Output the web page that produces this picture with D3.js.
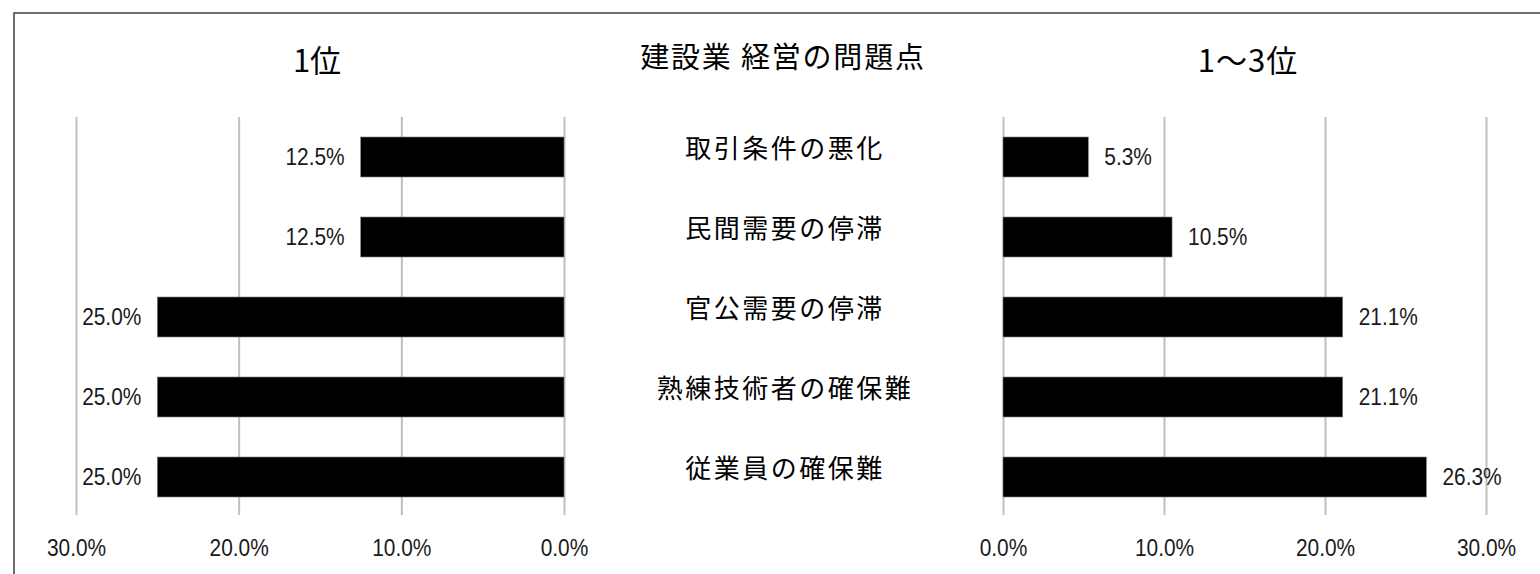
<!DOCTYPE html>
<html>
<head>
<meta charset="utf-8">
<script src="https://cdn.jsdelivr.net/npm/d3@7"></script>
<style>
  html, body { margin: 0; padding: 0; background: #fff; }
  svg { display: block; }
  .jp { font-family: "Noto Sans CJK JP", "Noto Sans", sans-serif; fill: #000; font-weight: 400; }
  .num { font-family: "Liberation Sans", "Arial", sans-serif; fill: #1a1a1a; }
</style>
</head>
<body>
<svg id="chart" width="1540" height="574"></svg>
<script>
// ---- data ----
const categories = ["取引条件の悪化", "民間需要の停滞", "官公需要の停滞", "熟練技術者の確保難", "従業員の確保難"];
const rank1 = [0.125, 0.125, 0.25, 0.25, 0.25];
const rank1to3 = [0.053, 0.105, 0.211, 0.211, 0.263];
const tickValues = [0, 0.1, 0.2, 0.3];
const mainTitle = "建設業 経営の問題点";
const leftTitle = "1位";
const rightTitle = "1～3位";

const svg = d3.select("#chart");
const NARROW = 0.87;

// frame
svg.append("path")
  .attr("d", "M14,600 L14,13 L1545,13")
  .attr("fill", "none").attr("stroke", "#404040").attr("stroke-width", 1.5);

const y = d3.scaleBand().domain(categories).range([117, 517]).paddingInner(0.5).paddingOuter(0.25);
const xL = d3.scaleLinear().domain([0, 0.3]).range([564, 76]);
const xR = d3.scaleLinear().domain([0, 0.3]).range([1003, 1486]);
const gridTop = 117, gridBottom = 515;
const fmt = d3.format(".1%");

function panel(x, values, side) {
  // gridlines
  const g = svg.append("g").attr("transform", `translate(0,${gridBottom})`)
    .call(d3.axisBottom(x).tickValues(tickValues).tickSize(-(gridBottom - gridTop)).tickFormat(""));
  g.select(".domain").remove();
  g.selectAll(".tick line").attr("stroke", "#bfbfbf").attr("stroke-width", 2);

  // tick labels
  const t = svg.append("g").attr("transform", `translate(0,548)`)
    .call(d3.axisBottom(x).tickValues(tickValues).tickSize(0).tickPadding(0).tickFormat(fmt));
  t.select(".domain").remove();
  t.attr("font-family", null).attr("font-size", null);
  t.selectAll(".tick text").attr("class", "num").attr("font-size", 24)
    .attr("y", 0).attr("dy", "0.35em")
    .attr("transform", `scale(${NARROW},1)`)
    .attr("fill", "#1a1a1a");

  // bars
  svg.append("g").selectAll("rect").data(values).join("rect")
    .attr("x", d => Math.min(x(0), x(d)))
    .attr("width", d => Math.abs(x(d) - x(0)))
    .attr("y", (d, i) => y(categories[i]))
    .attr("height", y.bandwidth())
    .attr("fill", "#000")
    .attr("stroke", "#7f7f7f").attr("stroke-width", 0.6);

  // data labels
  svg.append("g").selectAll("g").data(values).join("g")
    .attr("transform", (d, i) => `translate(${side === "left" ? x(d) - 16 : x(d) + 16},${y(categories[i]) + y.bandwidth() / 2}) scale(${NARROW},1)`)
    .append("text")
    .attr("class", "num")
    .attr("font-size", 24)
    .attr("dy", "0.35em")
    .attr("text-anchor", side === "left" ? "end" : "start")
    .text(d => fmt(d));
}

panel(xL, rank1, "left");
panel(xR, rank1to3, "right");

// category labels
svg.append("g").selectAll("text").data(categories).join("text")
  .attr("class", "jp")
  .attr("font-size", 26)
  .attr("letter-spacing", 2.5)
  .attr("x", 785)
  .attr("y", d => y(d) + y.bandwidth() / 2 - 8)
  .attr("dy", "0.35em")
  .attr("text-anchor", "middle")
  .text(d => d);

// titles
svg.append("text").attr("class", "jp").attr("font-size", 29).attr("letter-spacing", 1.8)
  .attr("x", 783).attr("y", 58).attr("dy", "0.35em").attr("text-anchor", "middle").text(mainTitle);
svg.append("text").attr("class", "jp").attr("font-size", 31)
  .attr("x", 317).attr("y", 61).attr("dy", "0.35em").attr("text-anchor", "middle").text(leftTitle);
svg.append("text").attr("class", "jp").attr("font-size", 31).attr("letter-spacing", 1)
  .attr("x", 1248).attr("y", 61).attr("dy", "0.35em").attr("text-anchor", "middle").text(rightTitle);
</script>
</body>
</html>
